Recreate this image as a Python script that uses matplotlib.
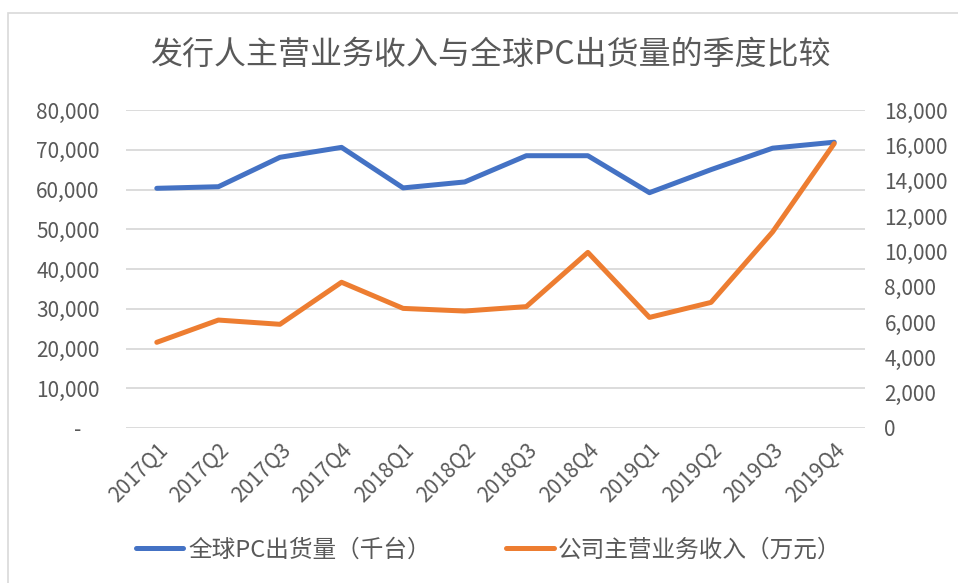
import matplotlib
matplotlib.use("Agg")
import matplotlib.pyplot as plt
from matplotlib.ticker import FuncFormatter, FixedLocator
from matplotlib.patches import Rectangle

plt.rcParams['font.family'] = ['Noto Sans CJK SC', 'DejaVu Sans']

quarters = ['2017Q1', '2017Q2', '2017Q3', '2017Q4', '2018Q1', '2018Q2',
            '2018Q3', '2018Q4', '2019Q1', '2019Q2', '2019Q3', '2019Q4']
pc_shipments = [60300, 60700, 68100, 70600, 60400, 61900,
                68500, 68500, 59200, 65000, 70400, 71900]
revenue = [4850, 6110, 5870, 8250, 6770, 6620,
           6870, 9940, 6260, 7110, 11100, 16100]
left_ticks = [0, 10000, 20000, 30000, 40000, 50000, 60000, 70000, 80000]
right_ticks = [0, 2000, 4000, 6000, 8000, 10000, 12000, 14000, 16000, 18000]

title = '发行人主营业务收入与全球PC出货量的季度比较'
label_pc = '全球PC出货量（千台）'
label_rev = '公司主营业务收入（万元）'

blue = '#4472C4'
orange = '#ED7D31'
grid_c = '#D9D9D9'
text_c = '#595959'

W, H = 958, 583
fig = plt.figure(figsize=(W / 100, H / 100), dpi=100)
fig.patches.append(Rectangle((8 / W, -0.1), 1.2, 1 - 13 / H + 0.1,
                             transform=fig.transFigure, fill=False,
                             edgecolor='#D9D9D9', linewidth=1.2))

ax = fig.add_axes([126 / W, 1 - 428 / H, (865 - 126) / W, (428 - 110) / H])
ax2 = ax.twinx()

x = list(range(len(quarters)))
ax.set_xlim(-0.5, len(quarters) - 0.5)
ax.set_ylim(0, 80000)
ax2.set_ylim(0, 18000)

for t in left_ticks:
    ax.axhline(t, color=grid_c, linewidth=1.3, zorder=0)

l1, = ax.plot(x, pc_shipments, color=blue, linewidth=3.6,
              solid_capstyle='round', solid_joinstyle='round', zorder=3)
l2, = ax2.plot(x, revenue, color=orange, linewidth=3.6,
               solid_capstyle='round', solid_joinstyle='round', zorder=3)

ax.yaxis.set_major_locator(FixedLocator(left_ticks))
ax2.yaxis.set_major_locator(FixedLocator(right_ticks))
ax.yaxis.set_major_formatter(FuncFormatter(
    lambda v, p: '-    ' if v == 0 else f'{int(v):,}'))
ax2.yaxis.set_major_formatter(FuncFormatter(lambda v, p: f'{int(v):,}'))

ax.set_xticks(x)
ax.set_xticklabels(quarters, rotation=45, ha='right', rotation_mode='anchor')

for a in (ax, ax2):
    for s in a.spines.values():
        s.set_visible(False)
    a.tick_params(length=0, colors=text_c, labelsize=15)
ax.tick_params(axis='y', pad=19)
ax2.tick_params(axis='y', pad=14)
ax.tick_params(axis='x', pad=8)

fig.text(490 / W, 1 - 55 / H, title, ha='center', va='center',
         fontsize=23, color=text_c)

fig.legend([l1, l2], [label_pc, label_rev], loc='center',
           bbox_to_anchor=(489 / W, 1 - 550 / H), ncol=2, frameon=False,
           fontsize=17, labelcolor=text_c, handlelength=2.0,
           handletextpad=0.2, columnspacing=3.2)

fig.savefig('out.png', dpi=100)
